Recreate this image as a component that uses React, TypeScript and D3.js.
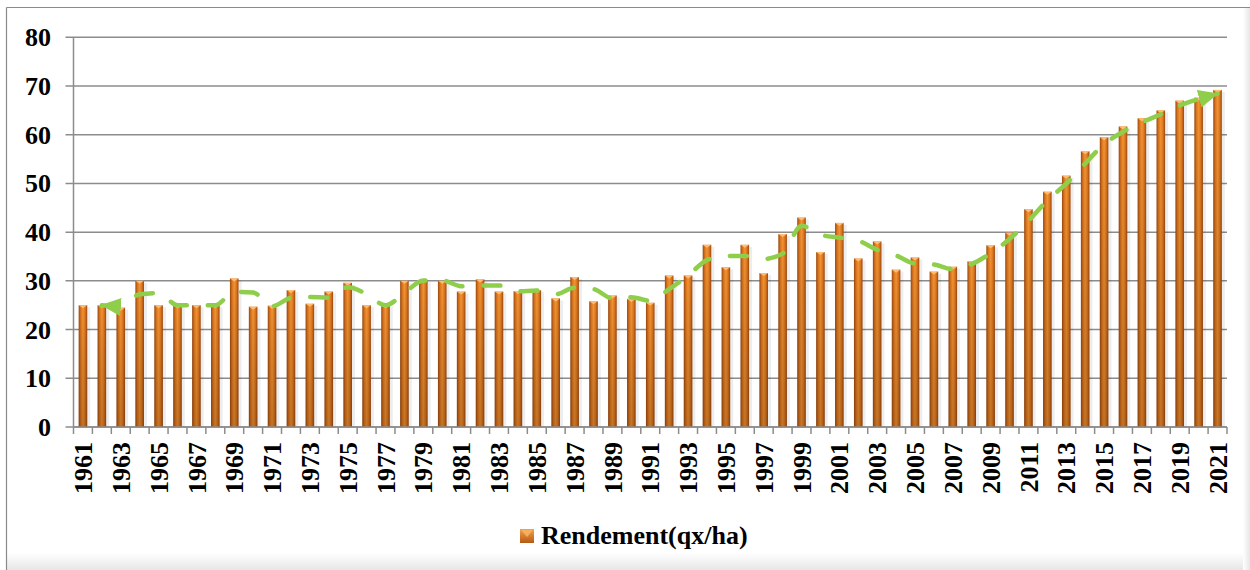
import React from "react";
import * as d3 from "d3";

const years: number[] = [
  1961, 1962, 1963, 1964, 1965, 1966, 1967, 1968, 1969, 1970,
  1971, 1972, 1973, 1974, 1975, 1976, 1977, 1978, 1979, 1980,
  1981, 1982, 1983, 1984, 1985, 1986, 1987, 1988, 1989, 1990,
  1991, 1992, 1993, 1994, 1995, 1996, 1997, 1998, 1999, 2000,
  2001, 2002, 2003, 2004, 2005, 2006, 2007, 2008, 2009, 2010,
  2011, 2012, 2013, 2014, 2015, 2016, 2017, 2018, 2019, 2020, 2021,
];

const rendement: number[] = [
  25.0, 25.0, 24.5, 30.0, 25.0, 25.0, 25.0, 25.0, 30.5, 24.7,
  24.9, 28.1, 25.3, 27.8, 29.6, 25.0, 25.0, 30.0, 30.2, 30.0,
  27.8, 30.3, 27.8, 27.9, 28.1, 26.4, 30.8, 25.8, 27.0, 26.3,
  25.5, 31.1, 31.1, 37.4, 32.8, 37.4, 31.6, 39.6, 43.0, 35.9,
  41.9, 34.6, 38.1, 32.3, 34.8, 31.9, 32.9, 34.0, 37.3, 39.9,
  44.7, 48.3, 51.6, 56.6, 59.5, 61.7, 63.4, 65.0, 67.0, 67.6, 69.2,
];

const yTicks: number[] = [0, 10, 20, 30, 40, 50, 60, 70, 80];
const seriesName = "Rendement(qx/ha)";

const FONT = "'Times New Roman', 'Liberation Serif', serif";

export default function App() {
  const W = 1250;
  const H = 570;
  const x = d3.scaleBand<number>().domain(years).range([73.5, 1227]).paddingInner(0).paddingOuter(0);
  const y = d3.scaleLinear().domain([0, 80]).range([427, 37.3]);
  const bw = 8.6;

  // 2-period moving average trendline
  const ma: { year: number; v: number }[] = [];
  for (let i = 1; i < rendement.length; i++) {
    ma.push({ year: years[i], v: (rendement[i] + rendement[i - 1]) / 2 });
  }
  const line = d3
    .line<{ year: number; v: number }>()
    .x((d) => (x(d.year) as number) + x.bandwidth() / 2)
    .y((d) => y(d.v))
    .curve(d3.curveMonotoneX);

  const x0 = 73.5;
  const x1 = 1227;

  return (
    <svg width={W} height={H} style={{ position: "absolute", left: 0, top: 0, display: "block" }}>
      <defs>
        <linearGradient id="barGrad" x1="0" x2="1" y1="0" y2="0">
          <stop offset="0%" stopColor="#9a480e" />
          <stop offset="25%" stopColor="#dd761e" />
          <stop offset="50%" stopColor="#f39433" />
          <stop offset="75%" stopColor="#de771f" />
          <stop offset="100%" stopColor="#9a480e" />
        </linearGradient>
        <linearGradient id="barShade" x1="0" x2="0" y1="0" y2="1">
          <stop offset="0%" stopColor="#000" stopOpacity="0" />
          <stop offset="100%" stopColor="#3a1a00" stopOpacity="0.25" />
        </linearGradient>
        <linearGradient id="bottomShade" x1="0" x2="0" y1="0" y2="1">
          <stop offset="0%" stopColor="#ffffff" />
          <stop offset="100%" stopColor="#e6e6e6" />
        </linearGradient>
        <linearGradient id="rightShade" x1="0" x2="1" y1="0" y2="0">
          <stop offset="0%" stopColor="#ffffff" />
          <stop offset="100%" stopColor="#e6e6e6" />
        </linearGradient>
        <linearGradient id="legGrad" x1="0" x2="0" y1="0" y2="1">
          <stop offset="0%" stopColor="#f5a04a" />
          <stop offset="100%" stopColor="#b55a14" />
        </linearGradient>
        <marker
          id="arrowEnd"
          viewBox="0 0 20 18"
          refX="19"
          refY="9"
          markerWidth="20"
          markerHeight="18"
          markerUnits="userSpaceOnUse"
          orient="auto-start-reverse"
        >
          <path d="M0,0 L20,9 L0,18 Z" fill="#8fce4a" />
        </marker>
      </defs>

      <rect x={0} y={0} width={W} height={H} fill="#ffffff" />
      {/* frame shading */}
      <rect x={7} y={553} width={W - 7} height={H - 553} fill="url(#bottomShade)" />
      <rect x={1243} y={8} width={7} height={H - 8} fill="url(#rightShade)" />
      <line x1={6.5} y1={7.5} x2={W} y2={7.5} stroke="#8a8a8a" strokeWidth={1.2} />
      <line x1={6.5} y1={7.5} x2={6.5} y2={H} stroke="#8a8a8a" strokeWidth={1.2} />

      {/* gridlines */}
      {yTicks.map((t) => (
        <line key={"g" + t} x1={65.5} x2={x1} y1={y(t)} y2={y(t)} stroke="#8c8c8c" strokeWidth={1.5} />
      ))}
      {/* y axis */}
      <line x1={x0} x2={x0} y1={y(80)} y2={y(0)} stroke="#8c8c8c" strokeWidth={1.5} />
      {yTicks.map((t) => (
        <text
          key={"yl" + t}
          x={51}
          y={y(t) + 9}
          textAnchor="end"
          fontFamily={FONT}
          fontWeight="bold"
          fontSize={26}
          fill="#000"
        >
          {t}
        </text>
      ))}

      {/* x axis ticks */}
      {years.map((yr) => (
        <line
          key={"xt" + yr}
          x1={x(yr) as number}
          x2={x(yr) as number}
          y1={y(0)}
          y2={y(0) + 7}
          stroke="#8c8c8c"
          strokeWidth={1.5}
        />
      ))}
      <line x1={x1} x2={x1} y1={y(0)} y2={y(0) + 7} stroke="#8c8c8c" strokeWidth={1.5} />

      {/* bars */}
      {years.map((yr, i) => {
        const cx = (x(yr) as number) + x.bandwidth() / 2;
        const top = y(rendement[i]);
        const h = y(0) - top;
        return (
          <g key={"b" + yr}>
            <rect x={cx + bw / 2} y={top + 2} width={3} height={h - 2} fill="#000" opacity={0.07} />
            <rect x={cx - bw / 2} y={top} width={bw} height={h} fill="url(#barGrad)" />
            <rect x={cx - bw / 2} y={top} width={bw} height={h} fill="url(#barShade)" />
            <path
              d={`M${cx - bw / 2},${top} L${cx + bw / 2},${top} L${cx},${top + 3} Z`}
              fill="#ffc27a"
              opacity={0.9}
            />
          </g>
        );
      })}

      {/* x axis line over bars */}
      <line x1={x0} x2={x1} y1={y(0)} y2={y(0)} stroke="#8c8c8c" strokeWidth={1.5} />

      {/* x labels */}
      {years.map((yr, i) =>
        i % 2 === 0 ? (
          <text
            key={"xl" + yr}
            transform={`translate(${(x(yr) as number) + x.bandwidth() / 2},442) rotate(-90)`}
            textAnchor="end"
            dy="0.35em"
            fontFamily={FONT}
            fontWeight="bold"
            fontSize={26}
            fill="#000"
          >
            {yr}
          </text>
        ) : null
      )}

      {/* trendline */}
      <path
        d={line(ma) || ""}
        fill="none"
        stroke="#8fce4a"
        strokeWidth={4.5}
        strokeLinecap="round"
        strokeDasharray="17 21"
        markerStart="url(#arrowEnd)"
        markerEnd="url(#arrowEnd)"
      />

      {/* legend */}
      <rect x={520} y={529} width={14} height={14} fill="url(#legGrad)" />
      <path d="M521,530 L533,530 L527,537 Z" fill="#f7b060" opacity={0.9} />
      <text x={541} y={544} fontFamily={FONT} fontWeight="bold" fontSize={26} fill="#000">
        {seriesName}
      </text>
    </svg>
  );
}
